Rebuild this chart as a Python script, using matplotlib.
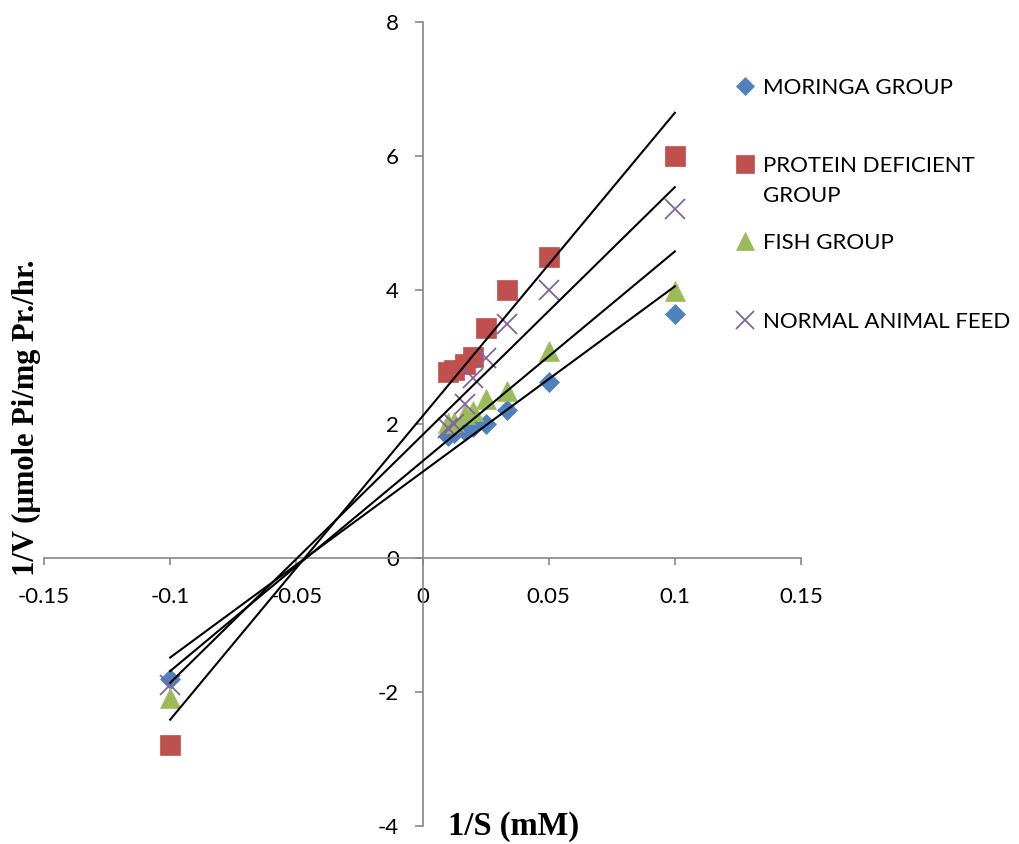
import matplotlib
matplotlib.use('Agg')
import matplotlib.pyplot as plt
from matplotlib.lines import Line2D
from matplotlib.ticker import FixedLocator, FuncFormatter
import numpy as np

# 1/S values (mM^-1)
inv_s = [-0.1, 0.01, 0.0125, 0.0167, 0.02, 0.025, 0.0333, 0.05, 0.1]

# 1/V values per group
moringa = [-1.81, 1.82, 1.86, 1.90, 1.95, 2.00, 2.21, 2.63, 3.64]
protein = [-2.79, 2.78, 2.81, 2.90, 3.00, 3.43, 4.00, 4.50, 6.00]
fish = [-2.09, 2.01, 2.03, 2.15, 2.20, 2.37, 2.49, 3.09, 3.99]
normal = [-1.90, 1.94, 2.00, 2.30, 2.69, 2.99, 3.49, 4.00, 5.21]

labels = ["MORINGA GROUP", "PROTEIN DEFICIENT", "FISH GROUP", "NORMAL ANIMAL FEED"]
xticks = [-0.15, -0.1, -0.05, 0, 0.05, 0.1, 0.15]
yticks = [-4, -2, 0, 2, 4, 6, 8]

plt.rcParams['font.family'] = ['Lato', 'DejaVu Sans']
plt.rcParams['axes.unicode_minus'] = False

W, H = 1019, 844
fig = plt.figure(figsize=(W / 100, H / 100), dpi=100)
ax = fig.add_axes([44 / W, 18 / H, 757 / W, 804 / H])

axis_grey = '#868686'
series = [
    (moringa, 'D', '#4F81BD', 10.5),
    (protein, 's', '#C0504D', 14),
    (fish, '^', '#9BBB59', 14),
    (normal, 'x', '#8064A2', 14),
]

handles = []
for vals, mk, col, ms in series:
    if mk == 'x':
        h, = ax.plot(inv_s, vals, linestyle='none', marker=mk, markersize=ms,
                     markeredgecolor=col, markeredgewidth=1.3, zorder=3, clip_on=False)
    else:
        h, = ax.plot(inv_s, vals, linestyle='none', marker=mk, markersize=ms,
                     markerfacecolor=col, markeredgecolor=col, markeredgewidth=0.5,
                     zorder=3, clip_on=False)
    handles.append(h)
    # linear trendline over the x range of the data
    k, b = np.polyfit(inv_s, vals, 1)
    xs = np.array([min(inv_s), max(inv_s)])
    ax.plot(xs, k * xs + b, color='black', linewidth=1.5, zorder=4)

ax.set_xlim(-0.15, 0.15)
ax.set_ylim(-4, 8)

# axes crossing at the origin
ax.spines['left'].set_position('zero')
ax.spines['bottom'].set_position('zero')
ax.spines['top'].set_visible(False)
ax.spines['right'].set_visible(False)
for s in ('left', 'bottom'):
    ax.spines[s].set_color(axis_grey)
    ax.spines[s].set_linewidth(1.2)

ax.xaxis.set_major_locator(FixedLocator(xticks))
ax.yaxis.set_major_locator(FixedLocator(yticks))
ax.xaxis.set_major_formatter(FuncFormatter(lambda v, p: '%g' % v))
ax.yaxis.set_major_formatter(FuncFormatter(lambda v, p: '%g' % v))
ax.tick_params(axis='x', direction='out', length=5, width=1.2, color=axis_grey,
               labelsize=16, pad=16)
ax.tick_params(axis='y', direction='out', length=6, width=1.2, color=axis_grey,
               labelsize=16, pad=11)

serif = dict(family='Liberation Serif', fontweight='bold')
fig.text(26 / W, 1 - 418 / H, '1/V (\u00b5mole Pi/mg Pr./hr.', rotation=90,
         ha='center', va='center', fontsize=22, **serif)
fig.text(514 / W, 1 - 826 / H, '1/S (mM)', ha='center', va='center',
         fontsize=23.5, **serif)

# legend: one entry per row, placed like the original
fs = 16
row_y = [88, 166, 243, 322]
x_anchor = 734 / W
entries = list(zip(handles, labels, row_y))
blank = Line2D([], [], linestyle='none')
entries.insert(2, (blank, 'GROUP', 196))
for h, lab, y in entries:
    fig.legend(handles=[h], labels=[lab], loc='center left',
               bbox_to_anchor=(x_anchor, 1 - y / H), frameon=False,
               handlelength=1.0, handletextpad=0.3, borderpad=0,
               borderaxespad=0, fontsize=fs, markerscale=0.9)

fig.savefig('out.png', dpi=100)
